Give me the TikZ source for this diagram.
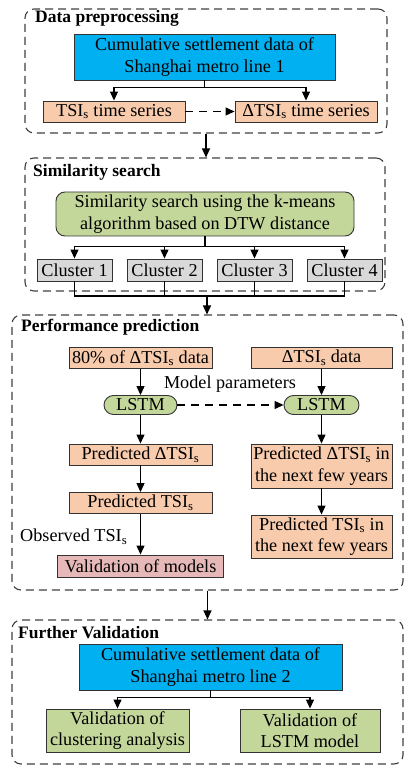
\documentclass[tikz,border=0pt]{standalone}
\usepackage{fontspec}
\setmainfont{Liberation Serif}
\usetikzlibrary{arrows.meta}
\definecolor{metroblue}{HTML}{00B0F0}
\definecolor{peachfill}{HTML}{F8CBAD}
\definecolor{olivefill}{HTML}{C4D79B}
\definecolor{greyfill}{HTML}{D9D9D9}
\definecolor{pinkfill}{HTML}{E6B9B8}
\newcommand{\tsi}{TSI\textsubscript{s}}
\begin{document}
\begin{tikzpicture}[x=1pt,y=-1pt,
    font=\fontsize{18.2}{21.5}\selectfont,
    frame/.style={draw=black!75,line width=1.1pt,dash pattern=on 8pt off 5pt,rounded corners=9pt,inner sep=0pt},
    box/.style={draw=black!80,line width=0.9pt,inner sep=0pt,align=center},
    blue/.style={box,fill=metroblue},
    peach/.style={box,fill=peachfill},
    olive/.style={box,fill=olivefill},
    greybox/.style={box,fill=greyfill},
    pink/.style={box,fill=pinkfill},
    arr/.style={-{Triangle[length=9pt,width=8pt]},line width=1.1pt},
    title/.style={anchor=west,font=\fontsize{17.5}{21.5}\selectfont\bfseries,inner sep=0pt}]
    \useasboundingbox (0,0) rectangle (418,775);

    \node[frame,minimum width=362pt,minimum height=124pt] (sec1) at (206,71) {};
    \node[frame,minimum width=360pt,minimum height=133pt] (sec2) at (205,224.5) {};
    \node[frame,minimum width=391pt,minimum height=275pt] (sec3) at (207.5,452.5) {};
    \node[frame,minimum width=391pt,minimum height=144pt] (sec4) at (207.5,692) {};

    \node[title] at (35,18) {Data preprocessing};
    \node[title] at (33,172) {Similarity search};
    \node[title] at (21,327) {Performance prediction};
    \node[title] at (18,633) {Further Validation};

    \node[blue,minimum width=261pt,minimum height=46pt] (line1) at (204.5,57) {Cumulative settlement data of\\Shanghai metro line 1};
    \node[peach,minimum width=142pt,minimum height=21pt] (tsiseries) at (114,111.5) {\tsi{} time series};
    \node[peach,minimum width=142pt,minimum height=21pt] (dtsiseries) at (306,111.5) {Δ\tsi{} time series};
    \draw[arr] (line1.south) -- ++(0,7) -| (tsiseries.north);
    \draw[arr] (line1.south) -- ++(0,7) -| (dtsiseries.north);
    \draw[arr,dashed,dash pattern=on 8pt off 6pt] (tsiseries) -- (dtsiseries);
    \draw[arr] (sec1.south) -- (sec1.south |- sec2.north);

    \node[olive,rounded corners=9pt,minimum width=298pt,minimum height=44pt] (kmeans) at (205,214) {Similarity search using the k-means\\algorithm based on DTW distance};
    \foreach \i/\x in {1/74.5,2/164.5,3/254.5,4/344.5} {
        \node[greybox,minimum width=75pt,minimum height=22pt] (c\i) at (\x,270) {Cluster \i};
        \draw[arr] (kmeans.south) -- ++(0,10) -| (c\i.north);
    }
    \coordinate (join) at (207,296);
    \draw[line width=1.1pt] (c1.south) |- (join) -| (c4.south);
    \draw[line width=1.1pt] (c2.south) -- (c2.south |- join);
    \draw[line width=1.1pt] (c3.south) -- (c3.south |- join);
    \draw[arr] (join) -- (join |- sec3.north);

    \node[peach,minimum width=143pt,minimum height=21pt] (train) at (140.5,358) {80\% of Δ\tsi{} data};
    \node[peach,minimum width=141pt,minimum height=21pt] (alldata) at (321.5,358) {Δ\tsi{} data};
    \node[olive,rounded corners=9.5pt,minimum width=73pt,minimum height=19pt] (lstmA) at (140.5,405) {LSTM};
    \node[olive,rounded corners=9.5pt,minimum width=75pt,minimum height=19pt] (lstmB) at (321.5,405) {LSTM};
    \node[inner sep=0pt] (params) at (230,384) {Model parameters};
    \node[peach,minimum width=143pt,minimum height=21pt] (predA) at (140.5,454.5) {Predicted Δ\tsi};
    \node[peach,minimum width=141pt,minimum height=44pt] (predB) at (321.5,466) {Predicted Δ\tsi{} in\\the next few years};
    \node[peach,minimum width=143pt,minimum height=21pt] (tsiA) at (140.5,503) {Predicted \tsi};
    \node[peach,minimum width=141pt,minimum height=43pt] (tsiB) at (321.5,536.5) {Predicted \tsi{} in\\the next few years};
    \node[pink,minimum width=166pt,minimum height=22pt] (valid) at (140.5,566) {Validation of models};
    \node[anchor=west,inner sep=0pt] (observed) at (20,537) {Observed \tsi};
    \draw[arr] (train) -- (lstmA);
    \draw[arr] (alldata) -- (lstmB);
    \draw[arr,dashed,dash pattern=on 8pt off 6pt] (lstmA) -- (lstmB);
    \draw[arr] (lstmA) -- (predA);
    \draw[arr] (lstmB) -- (predB);
    \draw[arr] (predA) -- (tsiA);
    \draw[arr] (predB) -- (tsiB);
    \draw[arr] (tsiA) -- (valid);
    \draw[arr] (sec3.south) -- (sec3.south |- sec4.north);

    \node[blue,minimum width=263pt,minimum height=46pt] (line2) at (210.5,667) {Cumulative settlement data of\\Shanghai metro line 2};
    \node[olive,minimum width=143pt,minimum height=43pt] (vcluster) at (117.5,730.5) {Validation of\\clustering analysis};
    \node[olive,minimum width=140pt,minimum height=43pt] (vlstm) at (310,730.5) {Validation of\\LSTM model};
    \draw[arr] (line2.south) -- ++(0,7) -| (vcluster.north);
    \draw[arr] (line2.south) -- ++(0,7) -| (vlstm.north);
\end{tikzpicture}
\end{document}
